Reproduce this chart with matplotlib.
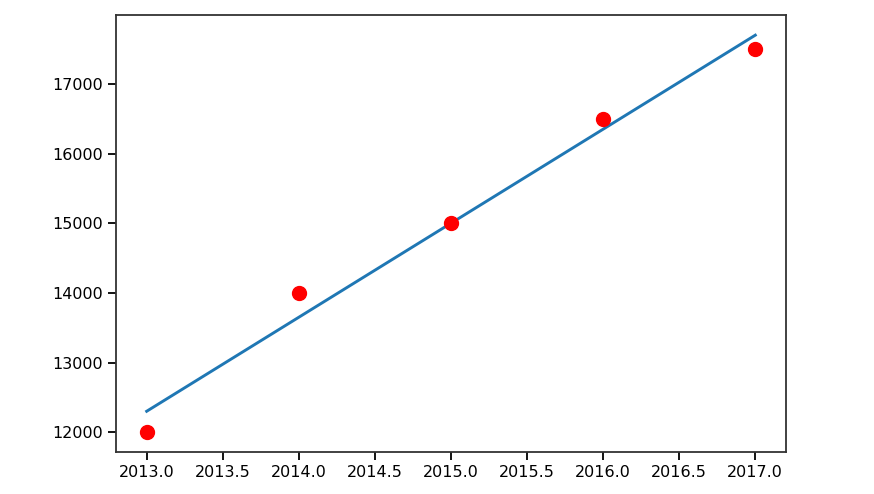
import matplotlib
matplotlib.use("Agg")
import matplotlib.pyplot as plt

# datos
anios = [2013, 2014, 2015, 2016, 2017]
valores = [12000, 14000, 15000, 16500, 17500]

# recta de ajuste (extremos leidos)
anios_recta = [2013, 2017]
valores_recta = [12300, 17700]


def realizar_grafica():
    plt.rcParams['font.size'] = 11.5
    fig = plt.figure(figsize=(8.74, 4.94), dpi=100)
    ax = fig.add_axes([0.133, 0.085, 0.766, 0.884])

    ax.scatter(anios, valores, color='red', s=100, zorder=3)
    ax.plot(anios_recta, valores_recta, color='#1f77b4', linewidth=2.1)

    for lado in ax.spines.values():
        lado.set_linewidth(1.3)
        lado.set_color('#333333')
    ax.tick_params(width=1.3, length=6)

    fig.savefig('out.png', dpi=100)


if __name__ == "__main__":
    realizar_grafica()
